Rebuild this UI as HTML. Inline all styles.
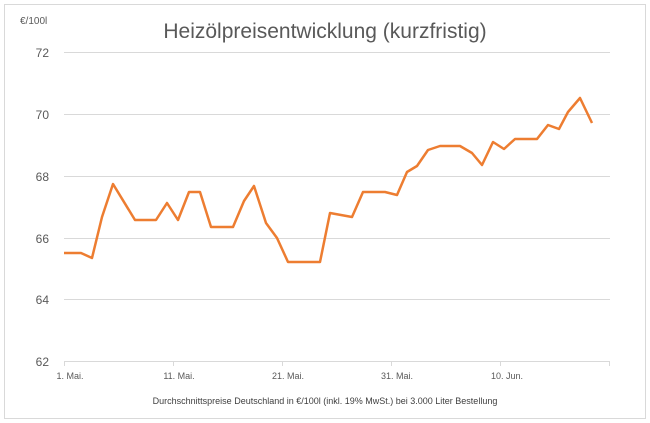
<!DOCTYPE html>
<html><head><meta charset="utf-8"><style>
body{margin:0;background:#fff;}
svg{display:block;font-family:"Liberation Sans",sans-serif;}
</style></head><body>
<svg width="650" height="423" viewBox="0 0 650 423">
<rect x="4.5" y="4.5" width="641" height="414" fill="#fff" stroke="#d9d9d9"/>
<text x="325" y="38" text-anchor="middle" font-size="21" fill="#595959">Heizölpreisentwicklung (kurzfristig)</text>
<text x="20" y="24" font-size="10" fill="#595959">€/100l</text>
<g stroke="#d9d9d9" stroke-width="1">
<line x1="64" x2="610" y1="52.5" y2="52.5"/>
<line x1="64" x2="610" y1="114.5" y2="114.5"/>
<line x1="64" x2="610" y1="176.5" y2="176.5"/>
<line x1="64" x2="610" y1="238.5" y2="238.5"/>
<line x1="64" x2="610" y1="299.5" y2="299.5"/>
<line x1="64" x2="610" y1="361.5" y2="361.5"/>
<line x1="64.5" x2="64.5" y1="361" y2="366"/>
<line x1="173.5" x2="173.5" y1="361" y2="366"/>
<line x1="282.5" x2="282.5" y1="361" y2="366"/>
<line x1="391.5" x2="391.5" y1="361" y2="366"/>
<line x1="500.5" x2="500.5" y1="361" y2="366"/>
<line x1="609.5" x2="609.5" y1="361" y2="366"/>
</g>
<g font-size="12" fill="#595959" text-anchor="end">
<text x="49" y="57">72</text><text x="49" y="119">70</text><text x="49" y="181">68</text>
<text x="49" y="243">66</text><text x="49" y="304">64</text><text x="49" y="366">62</text>
</g>
<g font-size="9" fill="#595959" text-anchor="middle">
<text x="70" y="379">1. Mai.</text><text x="179" y="379">11. Mai.</text><text x="288" y="379">21. Mai.</text>
<text x="397" y="379">31. Mai.</text><text x="507" y="379">10. Jun.</text>
</g>
<text x="325" y="404" text-anchor="middle" font-size="9" fill="#404040">Durchschnittspreise Deutschland in €/100l (inkl. 19% MwSt.) bei 3.000 Liter Bestellung</text>
<polyline fill="none" stroke="#ed7d31" stroke-width="2.5" stroke-linejoin="round" points="64,253 81,253 92,258 102,217 113,184 135,220 156,220 167,203 178,220 189,192 200,192 211,227 233,227 244,201 254,186 266,223 277,238 288,262 320,262 330,213 352,217 363,192 385,192 397,195 407,172 417,166 428,150 440,146 460,146 472,153 482,165 493,142 504,149 515,139 537,139 548,125 559,129 568,112 580,98 592,123"/>
</svg>
</body></html>
